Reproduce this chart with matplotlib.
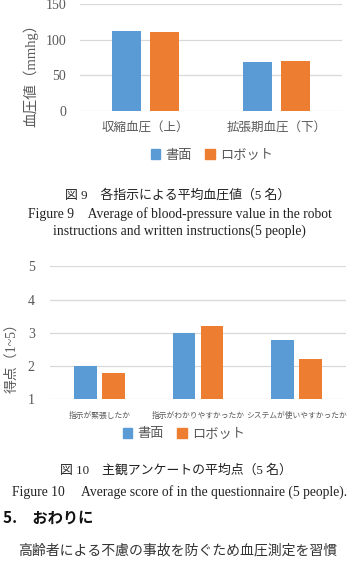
import matplotlib
matplotlib.use("Agg")
import matplotlib.pyplot as plt
from matplotlib.patches import Patch
import numpy as np

# ---- data ----
bp_categories = ["収縮血圧（上）", "拡張期血圧（下）"]
bp_written = [112, 69]
bp_robot = [111, 70]
bp_yticks = [0, 50, 100, 150]

q_categories = ["指示が緊張したか", "指示がわかりやすかったか", "システムが使いやすかったか"]
q_written = [2.0, 3.0, 2.8]
q_robot = [1.8, 3.2, 2.2]
q_yticks = [1, 2, 3, 4, 5]

series_names = ["書面", "ロボット"]

BLUE = "#5B9BD5"
ORANGE = "#ED7D31"
GRID = "#D9D9D9"
TXT = "#595959"
JP = ["Noto Sans CJK JP", "DejaVu Sans"]
SERIF_JP = ["Liberation Serif", "Noto Sans CJK JP"]

W, H = 349, 567
fig = plt.figure(figsize=(W / 100, H / 100), dpi=100)
fig.patch.set_facecolor("white")


def fx(px):
    return px / W


def fy(py):
    return 1 - py / H


def make_axes(x0, x1, ytop, ybot):
    return fig.add_axes([fx(x0), fy(ybot), fx(x1) - fx(x0), (ybot - ytop) / H])


def style(ax, yticks, ylim):
    ax.set_ylim(*ylim)
    ax.set_yticks(yticks)
    ax.yaxis.grid(True, color=GRID, lw=0.9)
    ax.set_axisbelow(True)
    for s in ax.spines.values():
        s.set_visible(False)
    ax.tick_params(axis="both", length=0, colors=TXT)
    for lab in ax.get_yticklabels():
        lab.set_family("Liberation Serif")
        lab.set_fontsize(10)


# ---- chart 1 ----
ax1 = make_axes(80, 342, 4.3, 111)
x = np.arange(len(bp_categories))
bw, off = 0.218, 0.143
ax1.bar(x - off, bp_written, bw, color=BLUE, zorder=3)
ax1.bar(x + off, bp_robot, bw, color=ORANGE, zorder=3)
ax1.set_xlim(-0.5, len(bp_categories) - 0.5)
style(ax1, bp_yticks, (0, 150))
ax1.set_xticks(x)
ax1.set_xticklabels(bp_categories, family=JP, fontsize=9, color=TXT)
ax1.tick_params(axis="x", pad=8)
ax1.tick_params(axis="y", pad=10)
fig.text(fx(31), fy(72), "血圧値（mmhg）", rotation=90, ha="center", va="center",
         family=SERIF_JP, fontsize=10.5, color=TXT)

handles = [Patch(color=BLUE), Patch(color=ORANGE)]
fig.legend(handles, series_names, loc="center", bbox_to_anchor=(fx(212), fy(155)),
           ncol=2, frameon=False, prop={"family": JP, "size": 9.5},
           handlelength=0.7, handleheight=0.7, handletextpad=0.4, columnspacing=1.0,
           labelcolor=TXT)

# ---- caption 1 ----
fig.text(fx(178), fy(195), "図 9　各指示による平均血圧値（5 名）", ha="center", va="center",
         family=SERIF_JP, fontsize=9.3, color="#222222")
fig.text(fx(180), fy(214), "Figure 9　Average of blood-pressure value in the robot",
         ha="center", va="center", family=SERIF_JP, fontsize=9.8, color="#222222")
fig.text(fx(179), fy(231), "instructions and written instructions(5 people)",
         ha="center", va="center", family=SERIF_JP, fontsize=9.8, color="#222222")

# ---- chart 2 ----
ax2 = make_axes(50, 346, 266.5, 399.3)
x2 = np.arange(len(q_categories))
bw2, off2 = 0.228, 0.142
ax2.bar(x2 - off2, q_written, bw2, color=BLUE, zorder=3)
ax2.bar(x2 + off2, q_robot, bw2, color=ORANGE, zorder=3)
ax2.set_xlim(-0.5, len(q_categories) - 0.5)
style(ax2, q_yticks, (1, 5))
ax2.set_xticks(x2)
ax2.set_xticklabels(q_categories, family=JP, fontsize=5.6, color=TXT)
ax2.tick_params(axis="x", pad=9)
ax2.tick_params(axis="y", pad=11)
fig.text(fx(12), fy(355), "得点（1~5）", rotation=90, ha="center", va="center",
         family=SERIF_JP, fontsize=10, color=TXT)
fig.legend(handles, series_names, loc="center", bbox_to_anchor=(fx(184), fy(434)),
           ncol=2, frameon=False, prop={"family": JP, "size": 9.5},
           handlelength=0.7, handleheight=0.7, handletextpad=0.4, columnspacing=1.0,
           labelcolor=TXT)

# ---- caption 2 and body ----
fig.text(fx(176), fy(470), "図 10　主観アンケートの平均点（5 名）", ha="center", va="center",
         family=SERIF_JP, fontsize=9.3, color="#222222")
fig.text(fx(12), fy(492), "Figure 10　 Average score of in the questionnaire (5 people).",
         ha="left", va="center", family=SERIF_JP, fontsize=9.8, color="#222222")
fig.text(fx(3), fy(518), "5.　おわりに", ha="left", va="center",
         family=JP, fontsize=11, fontweight="bold", color="#111111")
fig.text(fx(18), fy(550), "高齢者による不慮の事故を防ぐため血圧測定を習慣",
         ha="left", va="center", family=JP, fontsize=10, color="#333333")

fig.savefig("out.png", dpi=100)
